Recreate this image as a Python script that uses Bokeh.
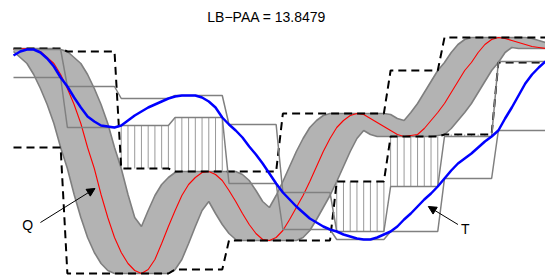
import numpy as np
from bokeh.plotting import figure
from bokeh.models import Range1d, Label, Arrow, NormalHead
from bokeh.embed import file_html
from bokeh.resources import INLINE

title_text = "LB\u2212PAA = 13.8479"
segment_length = 8      # samples per PAA segment
warping_window = 4      # samples on each side of the envelope window

# query Q (red) and candidate T (blue), 80 samples each
q_values = [2.775, 2.8, 2.8, 2.775, 2.725, 2.575, 2.425, 2.15, 1.8, 1.4,
            0.925, 0.325, -0.2, -0.85, -1.425, -1.925, -2.3, -2.575, -2.75, -2.825,
            -2.725, -2.475, -2.075, -1.65, -1.25, -0.875, -0.6, -0.425, -0.3, -0.275,
            -0.35, -0.5, -0.75, -1.025, -1.325, -1.6, -1.825, -1.975, -2.0, -1.925,
            -1.75, -1.475, -1.175, -0.875, -0.525, -0.15, 0.225, 0.55, 0.825, 1.0,
            1.125, 1.175, 1.15, 1.05, 0.95, 0.85, 0.75, 0.65, 0.6, 0.625,
            0.65, 0.8, 1.0, 1.2, 1.425, 1.7, 1.975, 2.25, 2.45, 2.7,
            2.9, 3.025, 3.075, 3.05, 3.0, 2.95, 2.9, 2.85, 2.825, 2.8]
t_values = [2.625, 2.725, 2.775, 2.775, 2.7, 2.55, 2.35, 2.075, 1.85, 1.575,
            1.325, 1.1, 0.975, 0.875, 0.85, 0.825, 0.875, 1.0, 1.125, 1.225,
            1.325, 1.4, 1.475, 1.55, 1.6, 1.625, 1.625, 1.625, 1.575, 1.475,
            1.325, 1.075, 0.9, 0.75, 0.575, 0.35, 0.15, -0.075, -0.325, -0.575,
            -0.8, -0.975, -1.15, -1.3, -1.45, -1.55, -1.65, -1.725, -1.775, -1.85,
            -1.9, -1.95, -1.975, -1.975, -1.925, -1.85, -1.775, -1.65, -1.475, -1.325,
            -1.15, -0.975, -0.825, -0.65, -0.45, -0.25, -0.075, 0.05, 0.175, 0.325,
            0.475, 0.6, 0.75, 1.05, 1.325, 1.625, 1.925, 2.15, 2.325, 2.475]

# annotation anchors (data units)
q_label = (3.1, -1.6)
q_arrow = (5.0, -1.55, 13.1, -0.7)
t_label = (68.1, -1.7)
t_arrow = (67.0, -1.6, 62.6, -1.15)
title_pos = (38.6, 3.59)

q = np.array(q_values)
t = np.array(t_values)
n = len(q)
x = np.arange(1, n + 1)
w = warping_window
upper = np.array([q[max(0, i - w):i + w + 1].max() for i in range(n)])
lower = np.array([q[max(0, i - w):i + w + 1].min() for i in range(n)])

nseg = n // segment_length
def seg_slice(k):
    return slice(k * segment_length, (k + 1) * segment_length)

u_hat = [upper[seg_slice(k)].max() for k in range(nseg)]
l_hat = [lower[seg_slice(k)].min() for k in range(nseg)]
t_hi = [t[seg_slice(k)].max() for k in range(nseg)]
t_lo = [t[seg_slice(k)].min() for k in range(nseg)]

def step_xy(vals):
    xs, ys = [], []
    for k, v in enumerate(vals):
        xs += [x[k * segment_length], x[(k + 1) * segment_length - 1]]
        ys += [v, v]
    return xs, ys

hx, hy0, hy1 = [], [], []
for k in range(nseg):
    lo = hi = None
    if t_lo[k] > u_hat[k]:
        lo, hi = u_hat[k], t_lo[k]
    elif t_hi[k] < l_hat[k]:
        lo, hi = t_hi[k], l_hat[k]
    if lo is not None:
        for xi in x[seg_slice(k)]:
            hx.append(xi); hy0.append(lo); hy1.append(hi)

p = figure(width=545, height=277, output_backend="svg", toolbar_location=None,
           x_range=Range1d(0.2575, 80.0), y_range=Range1d(-2.925, 3.8),
           x_axis_location=None, y_axis_location=None,
           min_border_left=8, min_border_top=8, min_border_right=0, min_border_bottom=0)
p.grid.visible = False
p.outline_line_color = None
p.background_fill_color = "white"
p.border_fill_color = "white"

# envelope band
p.varea(x=x, y1=lower, y2=upper, fill_color="#b3b3b3")
p.line(x, upper, line_color="#7f7f7f", line_width=1.6)
p.line(x, lower, line_color="#7f7f7f", line_width=1.6)
p.line(x, q, line_color="#ff0000", line_width=1.1)

# hatching
p.segment(x0=hx, y0=hy0, x1=hx, y1=hy1, line_color="#999999", line_width=1)

# PAA of Q envelope
for vals in (u_hat, l_hat):
    sx, sy = step_xy(vals)
    p.line(sx, sy, line_color="black", line_width=2, line_dash="8 5")

# PAA of T (max / min per segment)
for vals in (t_hi, t_lo):
    sx, sy = step_xy(vals)
    p.line(sx, sy, line_color="#808080", line_width=1.5)

p.line(x, t, line_color="#0000ff", line_width=2.5)

for (x0, y0, x1, y1) in (q_arrow, t_arrow):
    p.add_layout(Arrow(end=NormalHead(size=8, fill_color="black", line_color="black"),
                       x_start=x0, y_start=y0, x_end=x1, y_end=y1,
                       line_color="black", line_width=1))

for txt, (lx, ly) in (("Q", q_label), ("T", t_label)):
    p.add_layout(Label(x=lx, y=ly, text=txt, text_font="Liberation Sans",
                       text_font_size="14px", text_align="center",
                       text_baseline="middle", text_color="black"))

p.add_layout(Label(x=title_pos[0], y=title_pos[1], text=title_text,
                   text_font="Liberation Sans", text_font_size="14px",
                   text_align="center", text_baseline="middle", text_color="black"))

open("out.html", "w").write(file_html(p, INLINE))
